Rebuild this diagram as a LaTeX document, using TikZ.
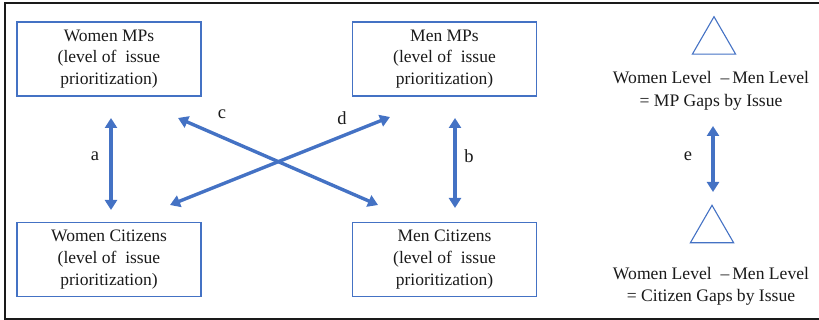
\documentclass[tikz,border=0pt]{standalone}
\usepackage{fontspec}
\setmainfont{Liberation Serif}
\newfontfamily\gara{Liberation Serif}
\usetikzlibrary{arrows.meta,shapes.geometric}
\definecolor{boxblue}{HTML}{4472C4}
\definecolor{arrblue}{HTML}{4472C4}
\definecolor{txt}{HTML}{1A1A1A}
\tikzset{
  catbox/.style={draw=boxblue, line width=1.1pt, minimum width=184pt, minimum height=74pt,
    align=center, inner sep=0pt, font=\gara\fontsize{17.5}{21.7}\selectfont, text=txt},
  gaptext/.style={align=center, inner sep=0pt, font=\gara\fontsize{17.6}{22.5}\selectfont, text=txt},
  lbl/.style={inner sep=0pt, font=\gara\fontsize{18.5}{20}\selectfont, text=txt},
  tri/.style={draw=boxblue, line width=1.1pt, regular polygon, regular polygon sides=3,
    minimum size=50pt, inner sep=0pt},
  dbl/.style={draw=arrblue, line width=3.4pt, {Triangle[width=12pt,length=10pt]}-{Triangle[width=12pt,length=10pt]}}
}
\begin{document}
\begin{tikzpicture}[x=1pt,y=-1pt]
\useasboundingbox (0,0) rectangle (819,320);
\draw[line width=1.6pt, color=txt] (840,3) -- (5,3) -- (5,319) -- (840,319);

\node[catbox] (wmp) at (109,59) {Women MPs\\(level of\ \ issue\\prioritization)};
\node[catbox] (mmp) at (444.5,59) {Men MPs\\(level of\ \ issue\\prioritization)};
\node[catbox] (wc) at (109,259.5) {Women Citizens\\(level of\ \ issue\\prioritization)};
\node[catbox] (mc) at (444.5,259.5) {Men Citizens\\(level of\ \ issue\\prioritization)};

\node[tri] (t1) at (714,41.7) {};
\node[gaptext] (g1) at (711,91) {Women Level\ \ –\,Men Level\\= MP Gaps by Issue};
\node[tri] (t2) at (712,230.3) {};
\node[gaptext] (g2) at (711,286.5) {Women Level\ \ –\,Men Level\\= Citizen Gaps by Issue};

\coordinate (a1) at (111,118);
\coordinate (a2) at (111,210);
\coordinate (b1) at (455,118);
\coordinate (b2) at (455,208);
\coordinate (c1) at (178,118);
\coordinate (c2) at (378,205);
\coordinate (d1) at (390,117);
\coordinate (d2) at (170,205);
\coordinate (e1) at (713,126);
\coordinate (e2) at (713,192);

\draw[dbl] (a1) -- (a2);
\draw[dbl] (b1) -- (b2);
\draw[dbl] (c1) -- (c2);
\draw[dbl] (d1) -- (d2);
\draw[dbl] (e1) -- (e2);

\node[lbl] (la) at (95,156) {a};
\node[lbl] (lb) at (469,156) {b};
\node[lbl] (lc) at (222,114) {c};
\node[lbl] (ld) at (342,118) {d};
\node[lbl] (le) at (688,156) {e};
\end{tikzpicture}
\end{document}
